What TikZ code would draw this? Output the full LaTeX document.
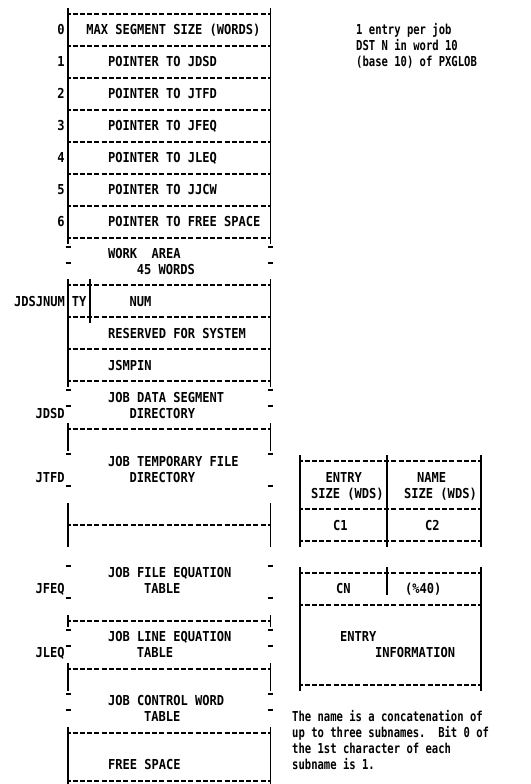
\documentclass[tikz,border=0pt]{standalone}
\usepackage{fontspec}
\newfontfamily\boxfont[FakeStretch=0.88]{DejaVu Sans Mono}
\newfontfamily\notefont[FakeStretch=0.77]{DejaVu Sans Mono}
\frenchspacing
\begin{document}
\begin{tikzpicture}[x=1pt, y=-15.97pt,
    sepline/.style={line width=2pt, dash pattern=on 5pt off 2.23pt, dash phase=2.5pt},
    wall/.style={line width=1.8pt},
    brkmark/.style={line width=2pt, yshift=7pt},
    cell/.style={font=\boxfont\bfseries\fontsize{13.7}{16}\selectfont, inner sep=0pt,
                 anchor=west, text height=10pt, text depth=0pt},
    memo/.style={cell, font=\notefont\bfseries\fontsize{13.7}{16}\selectfont}]
    \useasboundingbox (0,0.1234) rectangle (531,49.216);
    % main column
    \foreach \x in {68,270.5} {
        \foreach \a/\b in {1/15, 18/24, 27/28, 32/34, 39/39, 42/43, 46/49}
            \draw[wall] (\x,\a-0.38) -- (\x,\b+0.38);
        \foreach \n in {16,17,25,26,29,31,36,38,40,41,44,45}
            \draw[brkmark] (\x-2.5,\n) -- (\x+2.5,\n);
    }
    \foreach \n in {1,3,...,15,22,24,27,33,39,42,46,49}
        \draw[sepline] (68,\n) -- (270.5,\n);
    \foreach \n in {18,20} {
        \draw[sepline] (68,\n) -- (89.7,\n);
        \draw[sepline] (89.7,\n) -- (270.5,\n);
    }
    \draw[wall] (89.7,18-0.38) -- (89.7,20+0.38);
    \foreach \i in {0,...,6}
        \node[cell] (word\i) at (57.2,2+2*\i) {\i};
    \node[cell] (maxsize) at (86.1,2) {MAX SEGMENT SIZE (WORDS)};
    \node[cell] (pjdsd) at (107.8,4) {POINTER TO JDSD};
    \node[cell] (pjtfd) at (107.8,6) {POINTER TO JTFD};
    \node[cell] (pjfeq) at (107.8,8) {POINTER TO JFEQ};
    \node[cell] (pjleq) at (107.8,10) {POINTER TO JLEQ};
    \node[cell] (pjjcw) at (107.8,12) {POINTER TO JJCW};
    \node[cell] (pfree) at (107.8,14) {POINTER TO FREE SPACE};
    \node[cell] (work) at (107.8,16) {WORK\ \ AREA};
    \node[cell] (words) at (136.7,17) {45 WORDS};
    \node[cell] (jnum) at (13.8,19) {JDSJNUM};
    \node[cell] (ty) at (71.6,19) {TY};
    \node[cell] (num) at (129.5,19) {NUM};
    \node[cell] (rsvd) at (107.8,21) {RESERVED FOR SYSTEM};
    \node[cell] (smpin) at (107.8,23) {JSMPIN};
    \node[cell] (dsd1) at (107.8,25) {JOB DATA SEGMENT};
    \node[cell] (dsd2) at (129.5,26) {DIRECTORY};
    \node[cell] (jdsd) at (35.5,26) {JDSD};
    \node[cell] (tfd1) at (107.8,29) {JOB TEMPORARY FILE};
    \node[cell] (tfd2) at (129.5,30) {DIRECTORY};
    \node[cell] (jtfd) at (35.5,30) {JTFD};
    \node[cell] (feq1) at (107.8,36) {JOB FILE EQUATION};
    \node[cell] (feq2) at (144.0,37) {TABLE};
    \node[cell] (jfeq) at (35.5,37) {JFEQ};
    \node[cell] (leq1) at (107.8,40) {JOB LINE EQUATION};
    \node[cell] (leq2) at (136.7,41) {TABLE};
    \node[cell] (jleq) at (35.5,41) {JLEQ};
    \node[cell] (jcw1) at (107.8,44) {JOB CONTROL WORD};
    \node[cell] (jcw2) at (144.0,45) {TABLE};
    \node[cell] (free) at (107.8,48) {FREE SPACE};
    % entry layout
    \foreach \x in {300,387,481}
        \draw[wall] (\x,29-0.38) -- (\x,34+0.38);
    \foreach \n in {29,32,34}
        \draw[sepline] (300,\n) -- (481,\n);
    \foreach \x in {300,481}
        \draw[wall] (\x,36-0.38) -- (\x,43+0.38);
    \draw[wall] (387,36-0.38) -- (387,37+0.38);
    \foreach \n in {36,38,43}
        \draw[sepline] (300,\n) -- (481,\n);
    \node[cell] (esize1) at (325.3,30) {ENTRY};
    \node[cell] (esize2) at (310.9,31) {SIZE (WDS)};
    \node[cell] (nsize1) at (417,30) {NAME};
    \node[cell] (nsize2) at (404,31) {SIZE (WDS)};
    \node[cell] (cone) at (333,33) {C1};
    \node[cell] (ctwo) at (425,33) {C2};
    \node[cell] (cn) at (336,37) {CN};
    \node[cell] (cmax) at (405,37) {(\%40)};
    \node[cell] (info1) at (340,40) {ENTRY};
    \node[cell] (info2) at (375,41) {INFORMATION};
    % notes
    \node[memo] (job1) at (356,2) {1 entry per job};
    \node[memo] (job2) at (356,3) {DST N in word 10};
    \node[memo] (job3) at (356,4) {(base 10) of PXGLOB};
    \node[memo] (sub1) at (292,45) {The name is a concatenation of};
    \node[memo] (sub2) at (292,46) {up to three subnames.\ \ Bit 0 of};
    \node[memo] (sub3) at (292,47) {the 1st character of each};
    \node[memo] (sub4) at (292,48) {subname is 1.};
\end{tikzpicture}
\end{document}
